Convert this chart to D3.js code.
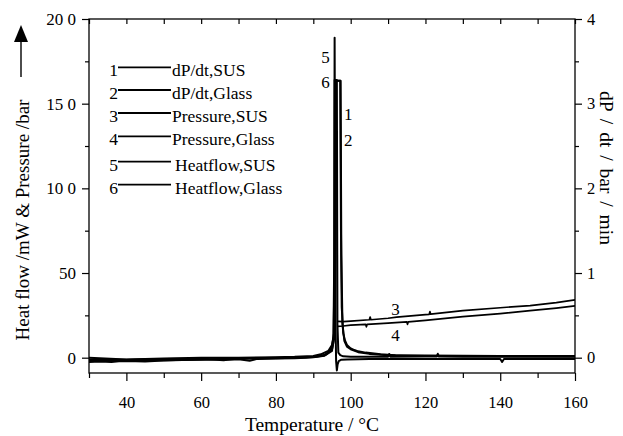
<!DOCTYPE html>
<html>
<head>
<meta charset="utf-8">
<script src="https://cdn.jsdelivr.net/npm/d3@7"></script>
<style>
  html, body { margin: 0; padding: 0; background: #fff; }
  svg { display: block; }
  svg text { font-family: "Liberation Serif", "Times New Roman", serif; fill: #000; }
</style>
</head>
<body>
<svg id="chart" width="623" height="436"></svg>
<script>
// ---------- data ----------
const xTicks = [40, 60, 80, 100, 120, 140, 160];
const xMinorTicks = [30, 50, 70, 90, 110, 130, 150];
const leftTicks = [0, 50, 100, 150, 200];
const leftTickLabels = ["0", "50", "10 0", "15 0", "20 0"];
const leftMinorTicks = [25, 75, 125, 175];
const rightTicks = [0, 1, 2, 3, 4];
const rightMinorTicks = [0.5, 1.5, 2.5, 3.5];

// Heat flow, SUS (5) — mW, left axis
const hfSusT = [30, 33, 36, 38, 40, 45, 50, 55, 60, 65, 70, 73, 75, 80, 85, 88, 90, 92, 93.5, 94.5, 95, 95.4, 95.6, 95.7, 95.8, 95.95, 96.1, 96.3, 96.5, 96.8, 97.5, 99, 105, 115, 125, 140, 140.5, 141, 160];
const hfSusV = [-2.5, -2.2, -2.6, -2.1, -2.0, -2.3, -1.6, -1.4, -1.2, -1.0, -0.9, -1.8, -0.7, -0.5, -0.3, 0, 0.4, 1, 2, 4, 7, 12, 60, 189, 120, 20, -2, -7.5, -4, -2, -1.2, -1.0, -0.8, -0.7, -0.7, -0.8, -2.5, -0.8, -0.8];
// Heat flow, Glass (6) — mW, left axis
const hfGlassT = [30, 40, 45, 50, 60, 66, 70, 80, 85, 90, 93, 95, 95.4, 95.6, 95.7, 96.3, 96.45, 96.7, 97.2, 98, 100, 110, 110.3, 110.6, 120, 123, 123.3, 123.6, 130, 160];
const hfGlassV = [-1.0, -1.2, -0.9, -0.8, -0.6, -1.5, -0.5, -0.3, 0, 0.3, 1.2, 4, 10, 40, 164, 164, 20, 3, 1.5, 0.8, 0.6, 0.6, 2.2, 0.6, 0.7, 0.7, 2.3, 0.7, 0.6, 0.6];
// dP/dt, SUS (1) — bar/min, right axis
const dpSusT = [30, 40, 50, 60, 70, 80, 85, 90, 92, 94, 95, 95.6, 95.9, 96.0, 97.2, 97.4, 97.6, 98, 98.5, 99, 100, 101, 102, 104, 108, 112, 120, 140, 160];
const dpSusV = [0.0, -0.02, -0.01, 0, 0, 0.005, 0.01, 0.02, 0.04, 0.08, 0.15, 0.3, 1.5, 3.27, 3.27, 1.5, 0.6, 0.29, 0.2, 0.15, 0.11, 0.09, 0.075, 0.06, 0.04, 0.03, 0.025, 0.02, 0.02];
// dP/dt, Glass (2) — bar/min, right axis
const dpGlassT = [30, 40, 50, 60, 70, 80, 90, 93, 95, 95.7, 95.95, 96.05, 97.3, 97.5, 97.8, 98.3, 99, 100, 102, 105, 110, 120, 160];
const dpGlassV = [-0.04, -0.03, -0.03, -0.02, -0.01, 0, 0.01, 0.03, 0.1, 0.25, 1.2, 3.27, 3.27, 1.2, 0.4, 0.2, 0.13, 0.1, 0.065, 0.045, 0.03, 0.02, 0.015];
// Pressure, SUS (3) — bar, left axis
const prSusT = [96.5, 98, 100, 105, 105.2, 105.4, 110, 112.3, 120, 121, 121.2, 121.4, 130, 140, 148, 155, 160];
const prSusV = [21.4, 21.3, 21.6, 22.4, 24.0, 22.4, 23.3, 23.9, 25.4, 25.6, 27.2, 25.7, 27.8, 29.5, 30.8, 32.5, 34.1];
// Pressure, Glass (4) — bar, left axis
const prGlassT = [96.5, 98, 100, 104, 104.2, 104.4, 110, 112, 115, 115.2, 115.4, 120, 130, 140, 148, 155, 160];
const prGlassV = [18.5, 18.7, 19.2, 19.7, 18.2, 19.7, 20.4, 20.7, 21.2, 19.7, 21.2, 22.0, 24.2, 26.0, 27.8, 29.3, 30.6];

const legendNums = ["1", "2", "3", "4", "5", "6"];
const legendNames = ["dP/dt,SUS", "dP/dt,Glass", "Pressure,SUS", "Pressure,Glass", "Heatflow,SUS", "Heatflow,Glass"];

// ---------- layout ----------
const svg = d3.select("#chart");
const L = 89, T = 19, R = 575, B = 373;

const x = d3.scaleLinear().domain([30, 160]).range([L, R]);
const yL = d3.scaleLinear().domain([-9.04, 200]).range([B, T]);
const yR = d3.scaleLinear().domain([-0.1808, 4]).range([B, T]);

const zip = (t, v) => t.map((d, i) => [d, v[i]]);
const lineL = d3.line().x(d => x(d[0])).y(d => yL(d[1]));
const lineR = d3.line().x(d => x(d[0])).y(d => yR(d[1]));

const plot = svg.append("g");
plot.append("defs").append("clipPath").attr("id", "clip")
  .append("rect").attr("x", L).attr("y", T).attr("width", R - L).attr("height", B - T);
const curves = plot.append("g").attr("clip-path", "url(#clip)")
  .attr("fill", "none").attr("stroke", "#000").attr("stroke-linejoin", "round");

curves.append("path").attr("d", lineL(zip(hfGlassT, hfGlassV))).attr("stroke-width", 2);
curves.append("path").attr("d", lineR(zip(dpGlassT, dpGlassV))).attr("stroke-width", 2);
curves.append("path").attr("d", lineR(zip(dpSusT, dpSusV))).attr("stroke-width", 2);
curves.append("path").attr("d", lineL(zip(hfSusT, hfSusV))).attr("stroke-width", 2);
curves.append("path").attr("d", lineL(zip(prSusT, prSusV))).attr("stroke-width", 1.7);
curves.append("path").attr("d", lineL(zip(prGlassT, prGlassV))).attr("stroke-width", 1.7);

// ---------- axes ----------
const axes = svg.append("g");
function styleAxis(g) {
  g.select(".domain").remove();
  g.selectAll("line").attr("stroke", "#000").attr("stroke-width", 1.2);
}
// bottom
axes.append("g").attr("transform", `translate(0,${B})`)
  .call(d3.axisBottom(x).tickValues(xTicks).tickSize(8).tickPadding(15).tickFormat(d3.format("d")))
  .call(styleAxis).attr("font-size", 16.5);
axes.append("g").attr("transform", `translate(0,${B})`)
  .call(d3.axisBottom(x).tickValues(xMinorTicks).tickSize(5).tickFormat(""))
  .call(styleAxis);
// top (inward)
axes.append("g").attr("transform", `translate(0,${T})`)
  .call(d3.axisBottom(x).tickValues(xTicks.concat(xMinorTicks)).tickSize(5).tickFormat(""))
  .call(styleAxis);
// left
axes.append("g").attr("transform", `translate(${L},0)`)
  .call(d3.axisLeft(yL).tickValues(leftTicks).tickSize(7).tickPadding(6)
    .tickFormat((d, i) => leftTickLabels[i]))
  .call(styleAxis).attr("font-size", 17);
axes.append("g").attr("transform", `translate(${L},0)`)
  .call(d3.axisLeft(yL).tickValues(leftMinorTicks).tickSize(4).tickFormat(""))
  .call(styleAxis);
// right
axes.append("g").attr("transform", `translate(${R},0)`)
  .call(d3.axisRight(yR).tickValues(rightTicks).tickSize(7).tickPadding(5).tickFormat(d3.format("d")))
  .call(styleAxis).attr("font-size", 16.5);
axes.append("g").attr("transform", `translate(${R},0)`)
  .call(d3.axisRight(yR).tickValues(rightMinorTicks).tickSize(4).tickFormat(""))
  .call(styleAxis);
// frame
svg.append("rect").attr("x", L).attr("y", T).attr("width", R - L).attr("height", B - T)
  .attr("fill", "none").attr("stroke", "#000").attr("stroke-width", 1.3);

// ---------- titles ----------
svg.append("text").attr("x", 312).attr("y", 431).attr("text-anchor", "middle")
  .attr("font-size", 19.5).text("Temperature / °C");
svg.append("text").attr("transform", "translate(29,220) rotate(-90)").attr("text-anchor", "middle")
  .attr("font-size", 19).text("Heat flow /mW & Pressure /bar");
svg.append("text").attr("transform", "translate(600,168) rotate(90)").attr("text-anchor", "middle")
  .attr("font-size", 19.5).attr("word-spacing", 3).text("dP / dt / bar / min");
// arrow
svg.append("line").attr("x1", 21).attr("x2", 21).attr("y1", 77).attr("y2", 40)
  .attr("stroke", "#000").attr("stroke-width", 1.4);
svg.append("path").attr("d", "M21,25 L14,42 L28,42 Z").attr("fill", "#000");

// ---------- legend ----------
const legendY = [76.4, 99, 122, 145.4, 170.7, 193.7];
const lg = svg.append("g").attr("font-size", 17.5);
legendNums.forEach((n, i) => {
  lg.append("text").attr("x", 118).attr("y", legendY[i]).attr("text-anchor", "end").text(n);
  lg.append("line").attr("x1", 118).attr("x2", 171).attr("y1", legendY[i] - 9).attr("y2", legendY[i] - 9)
    .attr("stroke", "#000").attr("stroke-width", 1.8);
  lg.append("text").attr("x", i < 4 ? 172 : 175).attr("y", legendY[i]).text(legendNames[i]);
});

// ---------- curve labels ----------
const cl = svg.append("g").attr("font-size", 17);
cl.append("text").attr("x", x(94.4)).attr("y", yL(174)).attr("text-anchor", "end").text("5");
cl.append("text").attr("x", x(94.4)).attr("y", yL(159)).attr("text-anchor", "end").text("6");
cl.append("text").attr("x", x(98.2)).attr("y", yR(2.81)).text("1");
cl.append("text").attr("x", x(98.2)).attr("y", yR(2.5)).text("2");
cl.append("text").attr("x", x(112)).attr("y", yL(25.5)).attr("text-anchor", "middle").text("3");
cl.append("text").attr("x", x(112)).attr("y", yL(10)).attr("text-anchor", "middle").text("4");
</script>
</body>
</html>
